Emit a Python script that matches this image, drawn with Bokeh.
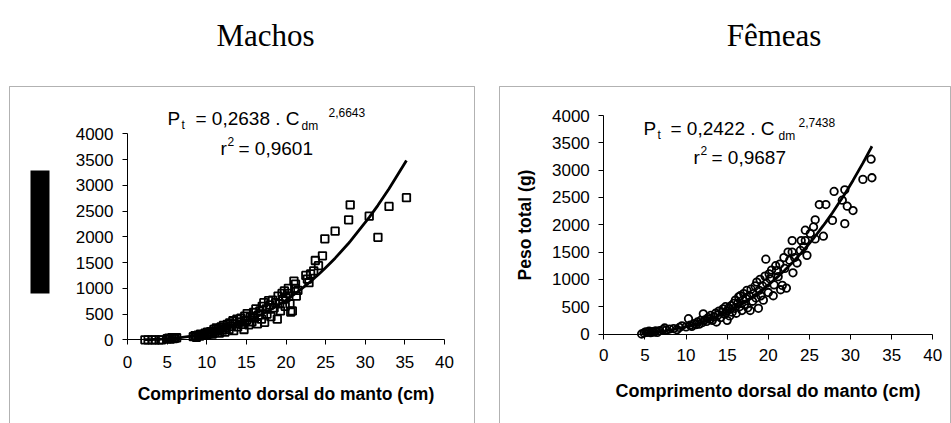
import numpy as np
from bokeh.plotting import figure
from bokeh.models import Range1d, Label, BoxAnnotation, FixedTicker
from bokeh.layouts import row
from bokeh.embed import file_html
from bokeh.resources import INLINE

# Comprimento dorsal do manto (cm) e peso total (g) -- machos
male_len = [2.2, 2.6, 3.1, 3.5, 4.0, 4.3, 5.0, 5.2, 5.4, 5.6, 5.8, 6.0, 6.2,
            8.3, 8.5, 8.7, 8.9, 9.1, 9.2, 9.4, 9.6, 9.8, 10.0, 10.1, 10.3,
            10.5, 10.7, 10.9, 11.0, 11.2, 11.3, 11.5, 11.6, 11.8, 12.0, 12.1,
            12.3, 12.4, 12.6, 12.8, 12.9, 13.1, 13.3, 13.4, 13.6, 13.8, 13.9, 14.1,
            14.3, 14.5, 14.7, 14.8, 15.0, 15.1, 15.3, 15.5, 15.7, 15.9, 16.0, 16.2,
            16.4, 16.5, 16.7, 16.9, 17.0, 17.2, 17.3, 17.5, 17.6, 17.8, 18.0, 18.1,
            18.3, 18.5, 18.7, 18.9, 19.0, 19.2, 19.3, 19.5, 19.6, 19.8, 19.9, 20.0,
            20.2, 20.3, 20.5, 20.6, 20.8, 21.0, 21.1, 21.2, 21.3, 21.5,
            22.5, 22.7, 22.9, 23.1, 23.5, 23.7, 24.1, 24.6, 24.9,
            26.2, 27.9, 28.1, 30.5, 31.6, 33.0, 35.2]
male_wt = [0, 0, 0, 0, 0, 0, 20, 30, 15, 40, 25, 35, 40,
           60, 80, 50, 90, 70, 110, 85, 100, 130, 90, 150, 120,
           160, 110, 200, 140, 230, 170, 210, 130, 250, 190, 280,
           150, 230, 300, 200, 330, 260, 370, 180, 310, 400, 250, 350,
           420, 300, 200, 460, 380, 510, 290, 440, 350, 530, 420, 600,
           310, 480, 560, 400, 650, 720, 340, 600, 500, 760, 680, 450,
           770, 620, 720, 400, 850, 700, 560, 900, 780, 950, 650, 820,
           900, 1000, 700, 540, 560, 1140, 1000, 1080, 850, 960,
           1250, 1180, 1110, 1280, 1340, 1540, 1440, 1630, 1960,
           2110, 2330, 2620, 2400, 1990, 2590, 2760]

# Comprimento dorsal do manto (cm) e peso total (g) -- femeas
fem_len = [4.6, 4.9, 5.1, 5.3, 5.5, 5.7, 5.9, 6.1, 6.3, 6.5, 6.8, 7.2, 7.4, 7.6, 8.0, 8.5, 8.9, 9.2, 9.5,
           10.0, 10.3, 10.5, 10.7, 11.0, 11.2, 11.4, 11.6, 11.8, 12.0, 12.1, 12.3,
           12.5, 12.7, 12.9, 13.0, 13.2, 13.4, 13.6, 13.7, 13.9, 14.0, 14.2, 14.4,
           14.5, 14.7, 14.8, 15.0, 15.0, 15.2, 15.3, 15.5, 15.6, 15.8, 15.9, 16.0,
           16.1, 16.3, 16.4, 16.5, 16.6, 16.8, 16.9, 17.0, 17.1, 17.3, 17.4, 17.5,
           17.7, 17.8, 17.9, 18.1, 18.2, 18.4, 18.5, 18.6, 18.8, 18.9, 19.0, 19.1,
           19.3, 19.4, 19.6, 19.7, 19.8, 20.0, 20.1, 20.2, 20.4, 20.6, 20.7, 20.9,
           21.0, 21.2, 21.4, 21.5, 21.7, 21.9, 22.0, 22.2, 22.4, 22.6, 22.9, 22.9, 23.0,
           23.2, 23.5, 23.9, 24.0, 24.3, 24.5, 24.5, 24.7, 25.1, 25.5, 25.7, 25.7,
           26.2, 26.7, 27.0, 27.8, 28.0, 29.0, 29.3, 29.3, 29.6, 30.3, 31.5, 32.5, 32.6]
fem_wt = [0, 20, 40, 30, 50, 25, 45, 35, 55, 30, 60, 80, 110, 70, 90, 100, 80, 120, 150,
          130, 280, 160, 140, 190, 170, 220, 180, 250, 210, 370, 260,
          230, 300, 270, 340, 250, 310, 380, 220, 350, 420, 300, 400,
          460, 360, 500, 250, 420, 480, 330, 520, 400, 560, 470, 620,
          380, 560, 680, 500, 700, 430, 620, 740, 540, 650, 800, 480,
          700, 430, 820, 600, 740, 880, 660, 950, 470, 800, 1000, 700,
          880, 620, 1060, 1370, 930, 760, 1100, 1010, 1170, 700, 900, 1250,
          1160, 1050, 1280, 810, 890, 1400, 1200, 840, 1500, 1350, 1710, 1500, 1120,
          1400, 1300, 1530, 1710, 1600, 1900, 1710, 1440, 1840, 1960, 2090, 1740,
          2370, 1790, 2370, 2080, 2610, 2450, 2640, 2020, 2340, 2260, 2830, 3200, 2860]

x_ticks = [0, 5, 10, 15, 20, 25, 30, 35, 40]
y_ticks = [0, 500, 1000, 1500, 2000, 2500, 3000, 3500, 4000]

# Ajuste potencial Pt = a . Cdm^b
male_a, male_b, male_r2 = 0.2638, 2.6643, 0.9601
fem_a, fem_b, fem_r2 = 0.2422, 2.7438, 0.9687

H = 423
SANS = "Liberation Sans"


def num(v, nd):
    return f"{v:.{nd}f}".replace(".", ",")


def panel(W, x0px, x40px, y0px, y4000px, xs, ys, marker, msize, a, b, r2,
          title, title_x, eq, ylabel, xlabel_size, tick_size, x_standoff,
          xlab_standoff):
    # the plot frame fills the whole canvas; axes sit at x=0 / y=0 inside it
    kx = (x40px - x0px) / 40.0
    ky = (y0px - y4000px) / 4000.0
    xr = Range1d(-x0px / kx, (W - x0px) / kx)
    yr = Range1d(-(H - y0px) / ky, y0px / ky)
    cx = lambda px: (px - x0px) / kx
    cy = lambda py: (y0px - py) / ky

    p = figure(width=W, height=H, x_range=xr, y_range=yr,
               min_border=0, min_border_left=0, min_border_right=0,
               min_border_top=0, min_border_bottom=0,
               output_backend="svg", toolbar_location=None)
    p.background_fill_color = "white"
    p.border_fill_color = "white"
    p.outline_line_color = None
    p.grid.grid_line_color = None

    for ax in (p.xaxis[0], p.yaxis[0]):
        ax.fixed_location = 0
        ax.axis_line_color = "black"
        ax.axis_line_width = 1
        ax.major_tick_line_color = "black"
        ax.major_tick_in = 0
        ax.major_tick_out = 5
        ax.minor_tick_line_color = None
        ax.major_label_text_font = SANS
        ax.major_label_text_font_size = tick_size
        ax.major_label_text_color = "black"
        ax.axis_label_text_font = SANS
        ax.axis_label_text_font_style = "bold"
        ax.axis_label_text_color = "black"
    p.xaxis.bounds = (0, 40)
    p.yaxis.bounds = (0, 4000)
    p.xaxis.ticker = FixedTicker(ticks=x_ticks)
    p.yaxis.ticker = FixedTicker(ticks=y_ticks)
    p.xaxis.major_label_standoff = x_standoff
    p.yaxis.major_label_standoff = 9
    p.xaxis.axis_label = "Comprimento dorsal do manto (cm)"
    p.xaxis.axis_label_text_font_size = xlabel_size
    p.xaxis.axis_label_standoff = xlab_standoff
    if ylabel:
        p.yaxis.axis_label = ylabel
        p.yaxis.axis_label_text_font_size = "17.5px"
        p.yaxis.axis_label_standoff = 14

    # dados observados e curva ajustada
    p.scatter(xs, ys, marker=marker, size=msize, fill_color=None,
              line_color="black", line_width=1.8)
    xf = np.array(sorted(set(xs)))
    p.line(xf, a * xf ** b, line_color="black", line_width=2.8)

    # moldura do painel
    p.add_layout(BoxAnnotation(left=cx(eq["box"][0]), right=cx(eq["box"][1]),
                               top=cy(86), bottom=cy(450), fill_color=None,
                               line_color="black", line_width=1))

    p.add_layout(Label(x=cx(title_x), y=cy(35), text=title, text_align="center",
                       text_baseline="alphabetic", text_font="Liberation Serif",
                       text_font_size="31px", text_color="black"))

    # equacao Pt = a . Cdm^b e r2
    pieces = [
        ("P", eq["p"][0], eq["p"][1], "19px"),
        ("t", eq["t"][0], eq["t"][1], "12px"),
        ("= " + num(a, 4) + " . C", eq["mid"][0], eq["mid"][1], "19px"),
        ("dm", eq["dm"][0], eq["dm"][1], "12px"),
        (num(b, 4), eq["exp"][0], eq["exp"][1], "12px"),
        ("r", eq["r"][0], eq["r"][1], "19px"),
        ("2", eq["r2"][0], eq["r2"][1], "12px"),
        ("= " + num(r2, 4), eq["rv"][0], eq["rv"][1], "19px"),
    ]
    for txt, px, py, fs in pieces:
        p.add_layout(Label(x=cx(px), y=cy(py), text=txt, text_align="left",
                           text_baseline="alphabetic", text_font=SANS,
                           text_font_size=fs, text_color="black"))
    return p, cx, cy


left_eq = dict(box=(9, 474), p=(167, 118), t=(181, 124), mid=(195, 118),
               dm=(301, 125), exp=(328, 112), r=(220, 148), r2=(227, 141),
               rv=(238, 148))
pl, lcx, lcy = panel(476, 127, 444, 339.3, 133.3, male_len, male_wt, "square", 7.5,
                     male_a, male_b, male_r2, "Machos", 265, left_eq, None,
                     "17.5px", "17px", 11, 13)
# bloco preto no lugar do titulo do eixo vertical
pl.add_layout(BoxAnnotation(left=lcx(30), right=lcx(49), top=lcy(170), bottom=lcy(293),
                            fill_color="black", fill_alpha=1, line_color=None))

o = 476
right_eq = dict(box=(499 - o, 950 - o), p=(643 - o, 128), t=(657 - o, 134),
                mid=(670 - o, 128), dm=(778 - o, 135), exp=(798 - o, 122),
                r=(693 - o, 157), r2=(700 - o, 150), rv=(711 - o, 157))
pr, rcx, rcy = panel(475, 603.3 - o, 932.3 - o, 333.5, 115, fem_len, fem_wt,
                     "circle", 7.5, fem_a, fem_b, fem_r2, "Fêmeas", 773.5 - o,
                     right_eq, "Peso total (g)", "18px", "17px", 10, 16)

layout = row(pl, pr, spacing=0)
open("out.html", "w").write(file_html(layout, INLINE))
